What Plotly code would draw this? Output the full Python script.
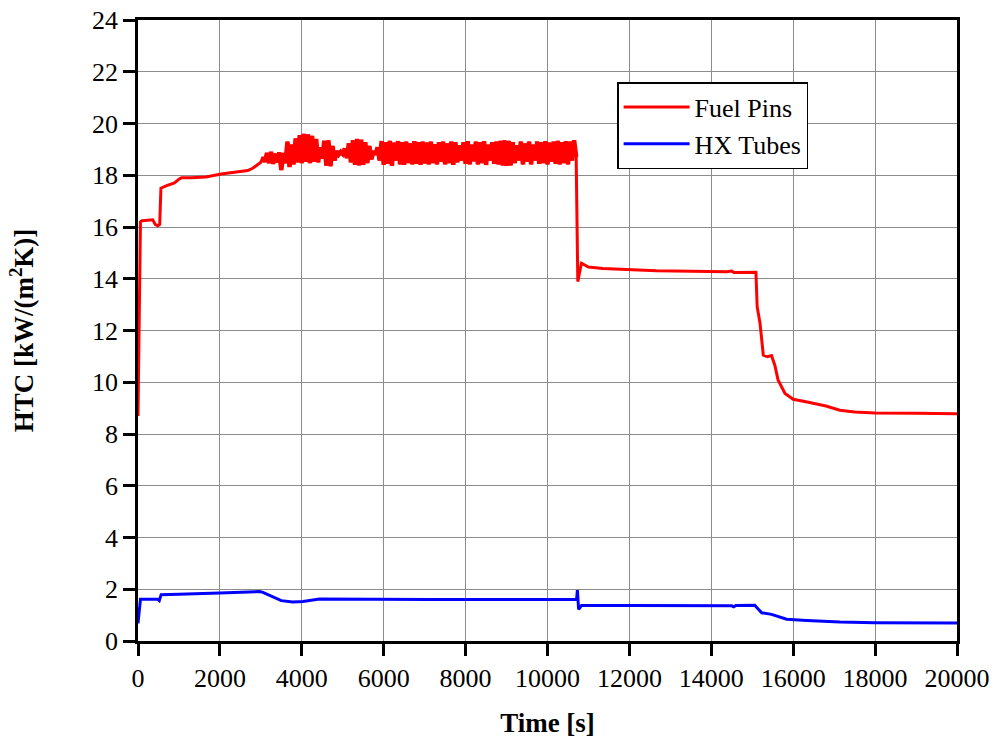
import plotly.graph_objects as go

# Fuel pin heat transfer coefficient, start-up ramp (s, kW/m2K)
fuel_t_start = [0, 60, 100, 360, 420, 480, 530, 560, 700, 890, 1000, 1060, 1300, 1660, 2030, 2680, 2800, 3000]
fuel_v_start = [8.7, 16.2, 16.24, 16.28, 16.1, 16.05, 16.1, 17.5, 17.6, 17.7, 17.85, 17.9, 17.9, 17.93, 18.05, 18.18, 18.27, 18.5]

# Fuel pin HTC during the oscillating period (alternating peaks / troughs)
fuel_t_osc = [
    3050, 3100, 3150, 3200, 3250, 3300, 3350, 3400, 3450, 3500, 3550, 3600, 3650, 3700, 3750, 3800,
    3850, 3900, 3950, 4000, 4050, 4100, 4150, 4200, 4250, 4300, 4350, 4400, 4450, 4500, 4550, 4600,
    4650, 4700, 4750, 4800, 4850, 4900, 4950, 5000, 5050, 5100, 5150, 5200, 5250, 5300, 5350, 5400,
    5450, 5500, 5550, 5600, 5650, 5700, 5750, 5800, 5850, 5900, 5950, 6000, 6050, 6100, 6150, 6200,
    6250, 6300, 6350, 6400, 6450, 6500, 6550, 6600, 6650, 6700, 6750, 6800, 6850, 6900, 6950, 7000,
    7050, 7100, 7150, 7200, 7250, 7300, 7350, 7400, 7450, 7500, 7550, 7600, 7650, 7700, 7750, 7800,
    7850, 7900, 7950, 8000, 8050, 8100, 8150, 8200, 8250, 8300, 8350, 8400, 8450, 8500, 8550, 8600,
    8650, 8700, 8750, 8800, 8850, 8900, 8950, 9000, 9050, 9100, 9150, 9200, 9250, 9300, 9350, 9400,
    9450, 9500, 9550, 9600, 9650, 9700, 9750, 9800, 9850, 9900, 9950, 10000, 10050, 10100, 10150, 10200,
    10250, 10300, 10350, 10400, 10450, 10500, 10550, 10600, 10650, 10700,
]
fuel_v_osc = [
    18.70, 18.52, 18.86, 18.47, 18.90, 18.44, 18.83, 18.50, 18.88, 18.20, 18.86, 18.47, 19.30, 18.32, 19.18, 18.42,
    19.42, 18.50, 19.55, 18.47, 19.60, 18.52, 19.58, 18.47, 19.52, 18.52, 19.40, 18.50, 19.08, 18.64, 19.33, 18.37,
    19.35, 18.35, 19.13, 18.57, 18.93, 18.80, 18.90, 18.82, 19.03, 18.67, 19.23, 18.50, 19.35, 18.40, 19.40, 18.38,
    19.37, 18.40, 19.28, 18.47, 19.13, 18.62, 18.93, 18.80, 19.08, 18.57, 19.32, 18.40, 19.28, 18.44, 19.33, 18.37,
    19.26, 18.57, 19.32, 18.42, 19.28, 18.40, 19.30, 18.47, 19.23, 18.42, 19.32, 18.44, 19.28, 18.40, 19.30, 18.46,
    19.26, 18.42, 19.30, 18.47, 19.20, 18.42, 19.28, 18.52, 19.30, 18.42, 19.23, 18.47, 19.30, 18.40, 19.28, 18.50,
    19.16, 18.57, 19.28, 18.44, 19.32, 18.42, 19.18, 18.54, 19.30, 18.42, 19.28, 18.47, 19.32, 18.40, 19.18, 18.57,
    19.28, 18.44, 19.30, 18.42, 19.33, 18.38, 19.35, 18.36, 19.33, 18.38, 19.28, 18.47, 19.16, 18.57, 19.30, 18.42,
    19.23, 18.52, 19.30, 18.42, 19.18, 18.57, 19.30, 18.44, 19.28, 18.47, 19.32, 18.42, 19.26, 18.52, 19.30, 18.44,
    19.33, 18.42, 19.28, 18.47, 19.32, 18.42, 19.30, 18.57, 19.35, 18.70,
]

# Fuel pin HTC after the first transient
fuel_t_end = [10740, 10790, 10830, 11000, 11350, 12660, 14370, 14500, 14550, 15090, 15120, 15190, 15270,
              15370, 15470, 15550, 15630, 15800, 16000, 16400, 16800, 17140, 17500, 18000, 19000, 20000]
fuel_v_end = [13.89, 14.3, 14.6, 14.45, 14.4, 14.31, 14.27, 14.3, 14.24, 14.25, 12.92, 12.28, 11.05,
              10.99, 11.03, 10.67, 10.09, 9.57, 9.34, 9.22, 9.08, 8.92, 8.85, 8.81, 8.8, 8.78]

fuel_t = fuel_t_start + fuel_t_osc + fuel_t_end
fuel_v = fuel_v_start + fuel_v_osc + fuel_v_end

# Heat exchanger tube HTC
hx_t = [0, 60, 485, 520, 565, 1000, 1990, 2970, 3050, 3500, 3780, 4030, 4430, 7120, 10710, 10730, 10760,
        10830, 12000, 14500, 14550, 14600, 15060, 15230, 15470, 15840, 16330, 17140, 18000, 20000]
hx_v = [0.68, 1.61, 1.61, 1.56, 1.79, 1.81, 1.855, 1.91, 1.88, 1.56, 1.51, 1.53, 1.62, 1.60, 1.60, 1.97, 1.22,
        1.37, 1.37, 1.36, 1.32, 1.37, 1.38, 1.09, 1.03, 0.84, 0.79, 0.73, 0.71, 0.70]

x_ticks = [0, 2000, 4000, 6000, 8000, 10000, 12000, 14000, 16000, 18000, 20000]
y_ticks = [0, 2, 4, 6, 8, 10, 12, 14, 16, 18, 20, 22, 24]

FONT = "Liberation Serif"
RED = "#ff0000"
BLUE = "#0000ff"

fig = go.Figure()
fig.add_trace(go.Scatter(x=fuel_t, y=fuel_v, mode="lines", name="Fuel Pins", legendgroup="fuel",
                         line=dict(color=RED, width=3, simplify=False)))
# heavier stroke over the densely oscillating stretch so the band reads as solid
fig.add_trace(go.Scatter(x=fuel_t_osc, y=fuel_v_osc, mode="lines", name="Fuel Pins",
                         legendgroup="fuel", showlegend=False, hoverinfo="skip",
                         line=dict(color=RED, width=4.5, simplify=False)))
fig.add_trace(go.Scatter(x=hx_t, y=hx_v, mode="lines", name="HX Tubes",
                         line=dict(color=BLUE, width=3, simplify=False)))

axis_common = dict(
    showline=True, linecolor="black", linewidth=2.5, mirror=True,
    ticks="outside", ticklen=12, tickwidth=2.5, tickcolor="black",
    showgrid=True, gridcolor="#8c8c8c", gridwidth=1.2,
    zeroline=False, automargin=False,
    tickfont=dict(family=FONT, size=26, color="black"),
)

fig.update_xaxes(range=[0, 20000], tickvals=x_ticks, ticktext=[str(v) for v in x_ticks],
                 title=dict(text="<b>Time [s]</b>", font=dict(family=FONT, size=27, color="black"),
                            standoff=22),
                 **axis_common)
fig.update_yaxes(range=[0, 24], tickvals=y_ticks, ticktext=[str(v) for v in y_ticks],
                 title=dict(text="<b>HTC [kW/(m<sup>2</sup>K)]</b>",
                            font=dict(family=FONT, size=27, color="black"), standoff=51),
                 **axis_common)

fig.update_layout(
    width=997, height=742,
    margin=dict(l=138, r=40, t=20, b=101),
    paper_bgcolor="white", plot_bgcolor="white",
    font=dict(family=FONT, color="black"),
    legend=dict(x=0.585, y=0.900, xanchor="left", yanchor="top",
                bgcolor="white", bordercolor="black", borderwidth=1.5,
                font=dict(family=FONT, size=26, color="black"),
                itemwidth=66, tracegroupgap=0),
    showlegend=True,
)

fig.write_html("out.html")
